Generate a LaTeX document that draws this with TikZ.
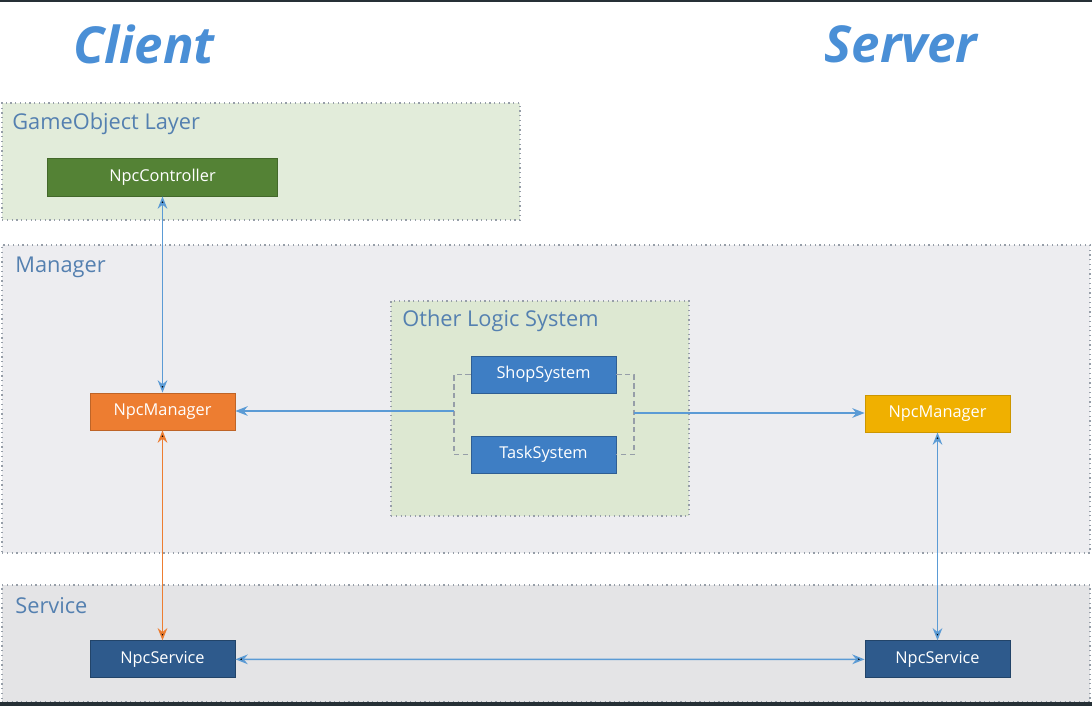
\documentclass[tikz,border=0pt]{standalone}
\usepackage{fontspec}
\setmainfont{Open Sans}
\usepackage{tikz}
\usetikzlibrary{arrows}
\usetikzlibrary{arrows.meta}
\usetikzlibrary{positioning}

\definecolor{titleblue}{RGB}{74,143,214}
\definecolor{labelblue}{RGB}{84,128,176}
\definecolor{layergreen}{RGB}{226,236,218}
\definecolor{logicgreen}{RGB}{221,232,210}
\definecolor{mgrgray}{RGB}{237,237,240}
\definecolor{svcgray}{RGB}{228,228,230}
\definecolor{dotgray}{RGB}{150,158,168}
\definecolor{ctrlgreen}{RGB}{84,130,53}
\definecolor{mgrorange}{RGB}{237,125,49}
\definecolor{mgrgold}{RGB}{240,176,0}
\definecolor{sysblue}{RGB}{62,126,196}
\definecolor{svcblue}{RGB}{46,90,140}
\definecolor{linkblue}{RGB}{91,155,213}
\definecolor{edgedark}{RGB}{38,48,54}

\begin{document}
\begin{tikzpicture}[x=0.02cm,y=-0.02cm,node distance=1.6cm,
    layer/.style={draw=dotgray,dotted,line width=0.7pt,inner sep=0pt},
    layer title/.style={anchor=west,inner sep=0pt,text=labelblue,font=\fontsize{12.4}{14}\selectfont},
    main node/.style={draw,line width=0.5pt,inner sep=0pt,minimum width=2.9cm,minimum height=0.74cm,
        text=white,font=\fontsize{9.3}{11}\selectfont},
    side title/.style={text=titleblue,font=\fontsize{29}{32}\selectfont\bfseries\itshape}]

    \useasboundingbox (0,0) rectangle (1092,706);
    \fill[edgedark] (0,0) rectangle (1092,2);

    % titles
    \node[side title] (client) at (144,44) {Client};
    \node[side title] (server) at (901,44) {Server};

    % layers
    \node[layer,fill=layergreen,minimum width=10.36cm,minimum height=2.34cm] (gol) at (261,161.5) {};
    \node[layer,fill=mgrgray,minimum width=21.76cm,minimum height=6.16cm] (mgr) at (546,399) {};
    \node[layer,fill=svcgray,minimum width=21.76cm,minimum height=2.34cm] (svc) at (546,643.5) {};
    \node[layer,fill=logicgreen,minimum width=5.96cm,minimum height=4.3cm] (ols) at (540,408.5) {};

    \node[layer title] (goltitle) at (12,124) {GameObject Layer};
    \node[layer title] (mgrtitle) at (15,267) {Manager};
    \node[layer title] (svctitle) at (15,606) {Service};
    \node[layer title] (olstitle) at (402,321) {Other Logic System};

    % boxes
    \node[main node,fill=ctrlgreen,draw=ctrlgreen!80!black,minimum width=4.6cm,minimum height=0.76cm] (ctrl) at (162.5,177) {NpcController};
    \node[main node,fill=mgrorange,draw=mgrorange!80!black] (cmgr) at (162.5,411.5) {NpcManager};
    \node[main node,fill=mgrgold,draw=mgrgold!85!black] (smgr) at (937.5,413.5) {NpcManager};
    \node[main node,fill=sysblue,draw=sysblue!75!black] (shop) at (543.5,374.5) {ShopSystem};
    \node[main node,fill=sysblue,draw=sysblue!75!black] (task) [below of=shop] {TaskSystem};
    \node[main node,fill=svcblue,draw=svcblue!75!black] (csvc) [below=4.2cm of cmgr] {NpcService};
    \node[main node,fill=svcblue,draw=svcblue!75!black] (ssvc) [below=4.16cm of smgr] {NpcService};

    \coordinate (jl) at (454,411);
    \coordinate (jr) at (634,413);

    \begin{scope}[line width=0.85pt,>={Stealth[length=7pt,width=5.5pt]}]
        \draw[dotgray,densely dashed,line width=0.7pt] (shop.west) -| (jl) |- (task.west);
        \draw[dotgray,densely dashed,line width=0.7pt] (shop.east) -| (jr) |- (task.east);
        \path [<->,draw=linkblue] (ctrl) edge (cmgr);
        \path [<->,draw=mgrorange] (cmgr) edge (csvc);
        \path [<->,draw=linkblue] (smgr) edge (ssvc);
        \path [<->,draw=linkblue] (csvc) edge (ssvc);
        \draw [->,linkblue] (jl) -- (jl -| cmgr.east);
        \draw [->,linkblue] (jr) -- (jr -| smgr.west);
    \end{scope}

    \fill[edgedark] (0,702) rectangle (1092,706);
\end{tikzpicture}
\end{document}
